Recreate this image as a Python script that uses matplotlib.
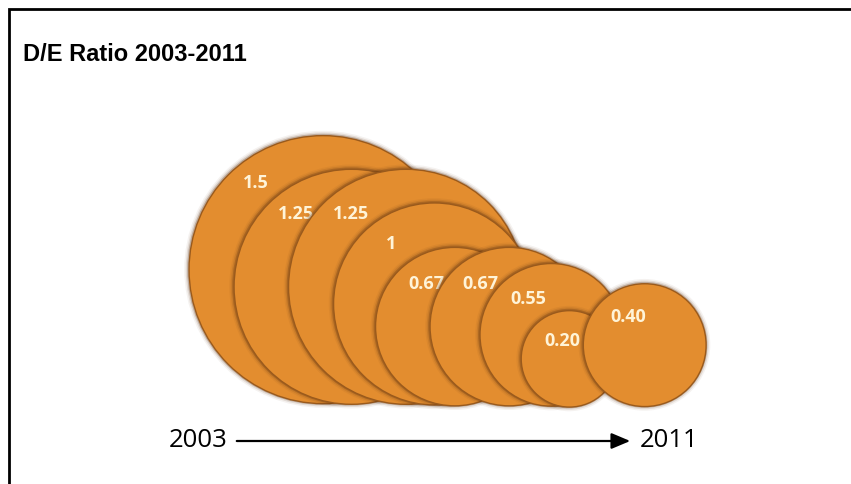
import matplotlib.pyplot as plt
from matplotlib.patches import Circle, FancyArrowPatch

years = [2003, 2004, 2005, 2006, 2007, 2008, 2009, 2010, 2011]
de_ratio = [1.5, 1.25, 1.25, 1, 0.67, 0.67, 0.55, 0.20, 0.40]
ratio_labels = ["1.5", "1.25", "1.25", "1", "0.67", "0.67", "0.55", "0.20", "0.40"]

W, H = 851, 485
ORANGE = "#E38D2F"
EDGE = "#9A5A1C"


def bubble_radius(v):
    # bubble size grows with the ratio
    return 35 + 66 * v


def year_x(yr):
    # timeline position of each year
    return 112 + 54.5 * (yr - years[0])


fig = plt.figure(figsize=(W / 100, H / 100), dpi=100)
ax = fig.add_axes([0, 0, 1, 1])
ax.set_xlim(0, W)
ax.set_ylim(0, H)
ax.axis("off")

# outer frame: only left and top edges fall inside the picture
ax.plot([9, 9, W + 10], [-10, 475, 475], color="black", lw=2,
        clip_on=False, solid_joinstyle="miter", zorder=1)

ax.text(23, 424, "D/E Ratio 2003-2011", fontsize=17, fontweight="bold",
        family="Liberation Sans", ha="left", va="baseline")

for i, (yr, v, lab) in enumerate(zip(years, de_ratio, ratio_labels)):
    r = bubble_radius(v)
    cx = year_x(yr) + 1.575 * r
    cy = 75 + 1.04 * r
    z = 3 + 3 * i
    for k, a in [(4.5, 0.06), (3, 0.12), (1.6, 0.28)]:
        ax.add_patch(Circle((cx - 0.3, cy + 0.3), r + k, color="#5a3010",
                            alpha=a, lw=0, zorder=z))
    ax.add_patch(Circle((cx, cy), r, facecolor=ORANGE, edgecolor=EDGE,
                        lw=1.0, zorder=z + 1))
    ax.text(cx - 0.7 * r + 27, cy + 0.8 * r - 20, lab, fontsize=13,
            fontweight="bold", family="Open Sans", color="#FFF4D8",
            ha="center", va="center", zorder=z + 2)

# timeline arrow
arrow = FancyArrowPatch((234, 43), (633, 43),
                        arrowstyle="-|>,head_length=0.95,head_width=0.4",
                        mutation_scale=12, lw=1.6, color="black", zorder=40)
ax.add_patch(arrow)
ax.text(228, 44, str(years[0]), fontsize=18.5, family="Open Sans",
        ha="right", va="center")
ax.text(640, 44, str(years[-1]), fontsize=18.5, family="Open Sans",
        ha="left", va="center")

fig.savefig("out.png", dpi=100)
